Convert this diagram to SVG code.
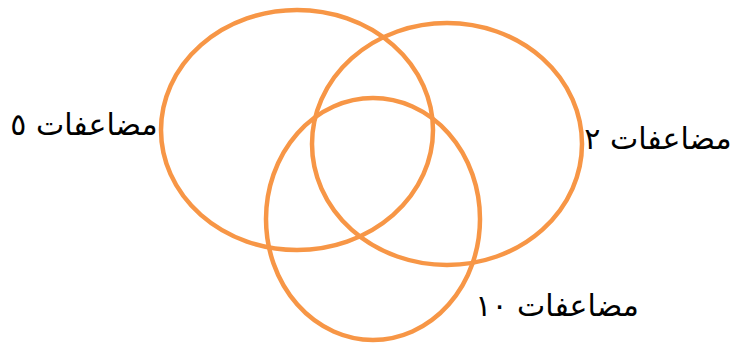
<svg xmlns="http://www.w3.org/2000/svg" width="736" height="343" viewBox="0 0 736 343">
<style>
.c{fill:none;stroke:#F79646;stroke-width:4.5}
.t{font-family:"DejaVu Sans","Noto Sans",sans-serif;font-size:30px;fill:#000;text-anchor:middle}
</style>
<rect width="736" height="343" fill="#fff"/>
<g id="set5"><ellipse class="c" cx="297" cy="130" rx="136" ry="120"/></g>
<g id="set2"><ellipse class="c" cx="447" cy="144" rx="135" ry="121"/></g>
<g id="set10"><ellipse class="c" cx="373" cy="219" rx="107" ry="121"/></g>
<g id="labels">
<text class="t" x="84" y="135" direction="rtl">مضاعفات ٥</text>
<text class="t" x="658" y="149" direction="rtl">مضاعفات ٢</text>
<text class="t" x="557" y="316" direction="rtl">مضاعفات ١٠</text>
</g>
</svg>
